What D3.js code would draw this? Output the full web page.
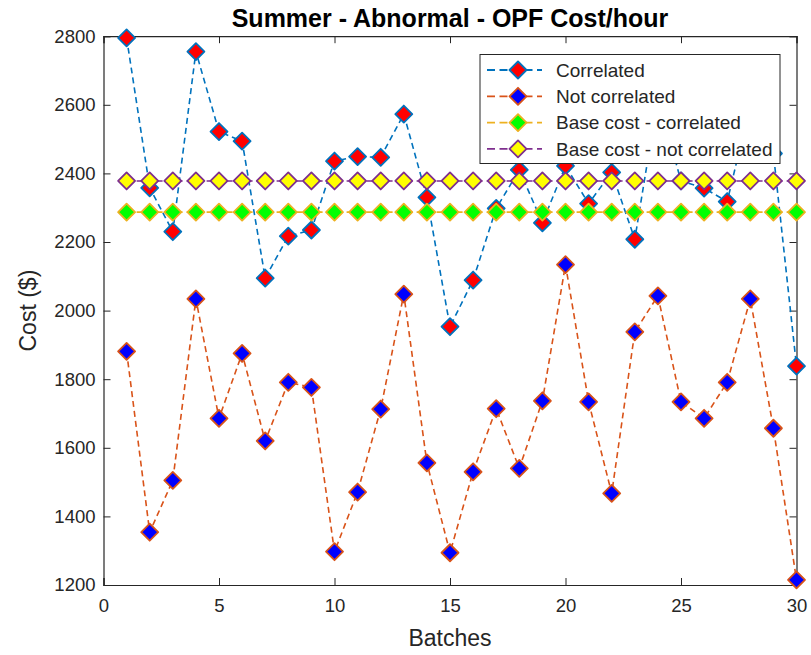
<!DOCTYPE html>
<html>
<head>
<meta charset="utf-8">
<script src="https://cdn.jsdelivr.net/npm/d3@7"></script>
<style>
  html, body { margin: 0; padding: 0; background: #fff; }
  text { font-family: "Liberation Sans", Arial, Helvetica, sans-serif; fill: #262626; }
</style>
</head>
<body>
<div id="chart"></div>
<script>
var width = 811, height = 655,
    margin = {left: 103.5, top: 36.2, right: 14.5, bottom: 70};

// data
var batches = d3.range(1, 31);
var correlated = [2795, 2358, 2230, 2755, 2522, 2494, 2095, 2217, 2235, 2436,
                  2449, 2447, 2573, 2330, 1953, 2089, 2298, 2410, 2256, 2422,
                  2312, 2403, 2208, 2620, 2378, 2357, 2318, 2600, 2458, 1838];
var notCorrelated = [1881, 1354, 1505, 2034, 1686, 1875, 1620, 1791, 1776, 1297,
                     1471, 1713, 2048, 1556, 1294, 1530, 1714, 1540, 1737, 2134,
                     1734, 1467, 1938, 2043, 1734, 1686, 1791, 2034, 1657, 1215];
var baseCorrelated = [2287, 2287, 2287, 2287, 2287, 2287, 2287, 2287, 2287, 2287,
                      2287, 2287, 2287, 2287, 2287, 2287, 2287, 2287, 2287, 2287,
                      2287, 2287, 2287, 2287, 2287, 2287, 2287, 2287, 2287, 2287];
var baseNotCorrelated = [2378, 2378, 2378, 2378, 2378, 2378, 2378, 2378, 2378, 2378,
                         2378, 2378, 2378, 2378, 2378, 2378, 2378, 2378, 2378, 2378,
                         2378, 2378, 2378, 2378, 2378, 2378, 2378, 2378, 2378, 2378];
var xTicks = [0, 5, 10, 15, 20, 25, 30];
var yTicks = [1200, 1400, 1600, 1800, 2000, 2200, 2400, 2600, 2800];

var series = [
  {name: "Correlated", values: correlated, line: "#0072BD", face: "#FF0000"},
  {name: "Not correlated", values: notCorrelated, line: "#D95319", face: "#0000FF"},
  {name: "Base cost - correlated", values: baseCorrelated, line: "#EDB120", face: "#00FF00"},
  {name: "Base cost - not correlated", values: baseNotCorrelated, line: "#7E2F8E", face: "#FFFF00"}
];

var g_width = width - margin.left - margin.right,
    g_height = height - margin.top - margin.bottom;

var svg = d3.select('#chart')
    .append('svg')
    .attr('width', width)
    .attr('height', height);

var g = svg.append('g')
    .attr('transform', 'translate(' + margin.left + ',' + margin.top + ')');

var scale_x = d3.scaleLinear().domain([0, 30]).range([0, g_width]);
var scale_y = d3.scaleLinear().domain([1200, 2800]).range([g_height, 0]);

// axes, ticks pointing inward, box all round
var tk = 7;
var fmt = d3.format('d');
var xb = g.append('g').attr('transform', 'translate(0,' + g_height + ')')
    .call(d3.axisBottom(scale_x).tickValues(xTicks).tickSize(-tk).tickPadding(14).tickFormat(fmt));
var yl = g.append('g')
    .call(d3.axisLeft(scale_y).tickValues(yTicks).tickSize(-tk).tickPadding(8).tickFormat(fmt));
var xt = g.append('g')
    .call(d3.axisTop(scale_x).tickValues(xTicks).tickSize(-tk).tickFormat(''));
var yr = g.append('g').attr('transform', 'translate(' + g_width + ',0)')
    .call(d3.axisRight(scale_y).tickValues(yTicks).tickSize(-tk).tickFormat(''));

[xb, yl, xt, yr].forEach(function(a) {
  a.select('.domain').attr('stroke', '#262626').attr('stroke-width', 1.2);
  a.selectAll('.tick line').attr('stroke', '#262626').attr('stroke-width', 1);
  a.selectAll('.tick text').attr('font-size', 18.5).attr('fill', '#262626')
    .style('font-family', '"Liberation Sans", Arial, sans-serif');
});

// lines and markers
var line = d3.line()
    .x(function(d, i) { return scale_x(batches[i]); })
    .y(function(d) { return scale_y(d); });

var diamond = function(r) {
  return 'M0,' + (-r) + 'L' + r + ',0L0,' + r + 'L' + (-r) + ',0Z';
};

var board = g.append('g');
series.forEach(function(s) {
  var sg = board.append('g');
  sg.append('path')
    .datum(s.values)
    .attr('d', line)
    .attr('fill', 'none')
    .attr('stroke', s.line)
    .attr('stroke-width', 1.6)
    .attr('stroke-dasharray', '6,4');
  sg.selectAll('path.mk')
    .data(s.values)
    .enter().append('path')
    .attr('class', 'mk')
    .attr('d', diamond(8.5))
    .attr('transform', function(d, i) {
      return 'translate(' + scale_x(batches[i]) + ',' + scale_y(d) + ')';
    })
    .attr('fill', s.face)
    .attr('stroke', s.line)
    .attr('stroke-width', 1.8)
    .attr('stroke-linejoin', 'round');
});

// legend
var lg = svg.append('g').attr('transform', 'translate(480,54.5)');
lg.append('rect')
  .attr('width', 300).attr('height', 109)
  .attr('fill', '#fff').attr('stroke', '#262626').attr('stroke-width', 1);
series.forEach(function(s, i) {
  var y = 15.5 + i * 26.3;
  var row = lg.append('g').attr('transform', 'translate(0,' + y + ')');
  row.append('line')
    .attr('x1', 7).attr('x2', 62).attr('y1', 0).attr('y2', 0)
    .attr('stroke', s.line).attr('stroke-width', 1.8)
    .attr('stroke-dasharray', '8,4.5');
  row.append('path')
    .attr('d', diamond(8.5))
    .attr('transform', 'translate(38,0)')
    .attr('fill', s.face).attr('stroke', s.line)
    .attr('stroke-width', 1.8).attr('stroke-linejoin', 'round');
  row.append('text')
    .attr('x', 76).attr('y', 0).attr('dy', '0.35em')
    .attr('font-size', 19)
    .text(s.name);
});

// title and axis labels
svg.append('text')
  .attr('x', margin.left + g_width / 2).attr('y', 27)
  .attr('text-anchor', 'middle')
  .attr('font-size', 25).attr('font-weight', 'bold')
  .style('fill', '#000')
  .text('Summer - Abnormal - OPF Cost/hour');

svg.append('text')
  .attr('x', margin.left + g_width / 2).attr('y', 646)
  .attr('text-anchor', 'middle')
  .attr('font-size', 23)
  .text('Batches');

svg.append('text')
  .attr('transform', 'translate(36,' + (margin.top + g_height / 2) + ') rotate(-90)')
  .attr('text-anchor', 'middle')
  .attr('font-size', 23)
  .text('Cost ($)');
</script>
</body>
</html>
